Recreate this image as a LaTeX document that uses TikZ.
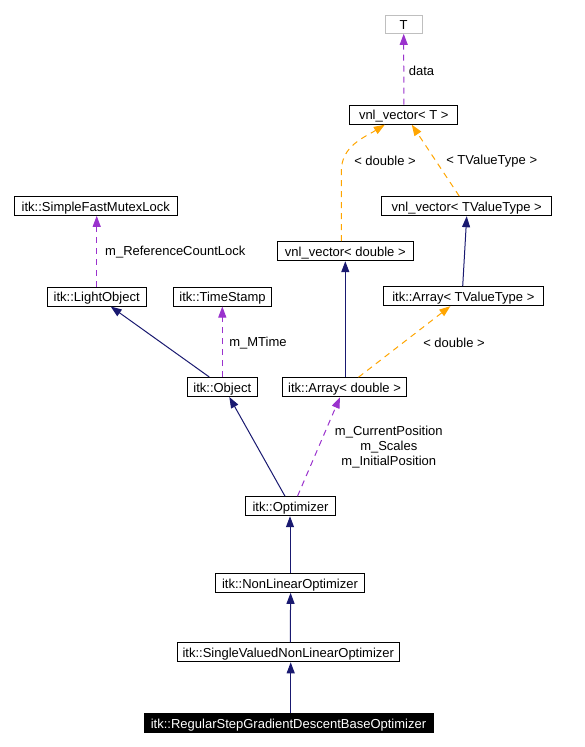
\documentclass[tikz,border=0pt]{standalone}
\usepackage{fontspec}
\setmainfont{Liberation Sans}
\usetikzlibrary{arrows.meta,calc}
\definecolor{inhblue}{RGB}{25,25,112}
\definecolor{usepurple}{RGB}{154,50,205}
\definecolor{tmplorange}{RGB}{255,165,0}
\definecolor{boxgray}{RGB}{191,191,191}
\tikzset{
  cls/.style={draw=black, line width=1pt, inner sep=0pt, minimum height=19pt,
    text height=12pt, text depth=1.5pt,
    font=\fontsize{13}{15}\selectfont},
  lbl/.style={inner sep=0pt, font=\fontsize{13}{15}\selectfont},
  tip/.style={-{Triangle[length=11pt,width=8pt]}},
  inh/.style={tip, draw=inhblue, line width=1pt},
  useedge/.style={tip, draw=usepurple, line width=1pt, dash pattern=on 6pt off 5pt},
  tmpl/.style={tip, draw=tmplorange, line width=1pt, dash pattern=on 6pt off 5pt},
}
\begin{document}
\begin{tikzpicture}[x=1pt,y=-1pt]
\useasboundingbox (0,0) rectangle (585,747);
% nodes
\node[cls, draw=boxgray, minimum width=37.3pt, minimum height=18.3pt] (T) at (403.7,24.2) {T};
\node[cls, minimum width=107.7pt] (vecT) at (403.8,114.7) {vnl\_vector< T >};
\node[cls, minimum width=170pt] (vecTV) at (466.7,206.2) {vnl\_vector< TValueType >};
\node[cls, minimum width=136pt] (vecD) at (345.3,251.2) {vnl\_vector< double >};
\node[cls, minimum width=160pt] (arrTV) at (463.3,296.2) {itk::Array< TValueType >};
\node[cls, minimum width=163pt] (sfml) at (95.8,205.8) {itk::SimpleFastMutexLock};
\node[cls, minimum width=98.7pt] (lo) at (96.7,296.5) {itk::LightObject};
\node[cls, minimum width=98.4pt] (ts) at (222.5,296.5) {itk::TimeStamp};
\node[cls, minimum width=70pt] (obj) at (222.3,387) {itk::Object};
\node[cls, minimum width=124.4pt] (arrD) at (344.5,387.2) {itk::Array< double >};
\node[cls, minimum width=89.6pt] (opt) at (290.5,506.2) {itk::Optimizer};
\node[cls, minimum width=148.6pt] (nlo) at (290,582.8) {itk::NonLinearOptimizer};
\node[cls, minimum width=222pt] (svnlo) at (288.3,652.3) {itk::SingleValuedNonLinearOptimizer};
\node[cls, fill=black, text=white, minimum width=289pt] (rsgd) at (288.5,723) {itk::RegularStepGradientDescentBaseOptimizer};
% edges
\draw[useedge] (vecT.north) -- (T.south);
\draw[tmpl] ($(vecD.north)+(-4,0)$) -- ($(vecD.north)+(-4,-70)$)
  .. controls ($(vecD.north)+(-4,-95)$) and ($(vecT.south)+(-40,13)$) .. ($(vecT.south)+(-19,0)$);
\draw[tmpl] ($(vecTV.north)+(-7.4,0)$) -- ($(vecT.south)+(8,0)$);
\draw[inh] ($(arrTV.north)+(-0.6,0)$) -- (vecTV.south);
\draw[inh] ($(arrD.north)+(0.8,0)$) -- (vecD.south);
\draw[tmpl] ($(arrD.north)+(14,0)$) -- ($(arrTV.south)+(-13,0)$);
\draw[useedge] (lo.north) -- ($(sfml.south)+(0.9,0)$);
\draw[inh] ($(obj.north)+(-13,0)$) -- ($(lo.south)+(14,0)$);
\draw[useedge] (obj.north) -- (obj.north |- ts.south);
\draw[inh] ($(opt.north)+(-5.5,0)$) -- ($(obj.south)+(7,0)$);
\draw[useedge] ($(opt.north)+(7,0)$) -- ($(arrD.south)+(-4.5,0)$);
\draw[inh] (nlo.north) -- (nlo.north |- opt.south);
\draw[inh] ($(svnlo.north)+(2,0)$) -- ($(nlo.south)+(0.6,0)$);
\draw[inh] ($(rsgd.north)+(2.2,0)$) -- ($(svnlo.south)+(2.4,0)$);
% labels
\node[lbl] (ldata) at (421.5,71) {data};
\node[lbl] (ldbl1) at (385,161) {< double >};
\node[lbl] (ltv) at (491.7,161) {< TValueType >};
\node[lbl] (ldbl2) at (454,342.7) {< double >};
\node[lbl] (lrcl) at (175.3,251.7) {m\_ReferenceCountLock};
\node[lbl] (lmt) at (258,342.7) {m\_MTime};
\node[lbl, align=center] (lpos) at (388.8,447.3) {m\_CurrentPosition\\m\_Scales\\m\_InitialPosition};
\end{tikzpicture}
\end{document}
